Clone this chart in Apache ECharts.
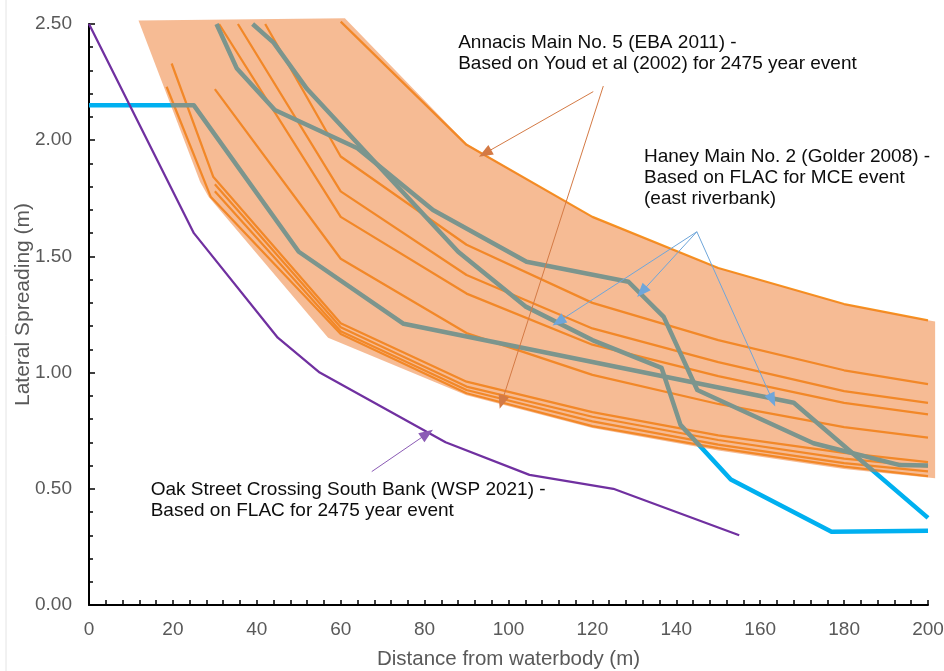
<!DOCTYPE html>
<html>
<head>
<meta charset="utf-8">
<script src="https://cdn.jsdelivr.net/npm/echarts@6/dist/echarts.min.js"></script>
<style>
  html, body { margin: 0; padding: 0; background: #ffffff; }
  #chart { width: 944px; height: 671px; }
</style>
</head>
<body>
<div id="chart"></div>
<script>
// ---- Lateral spreading (m) versus distance from waterbody (m) ----

// Axis ticks
const xTicks = [0, 20, 40, 60, 80, 100, 120, 140, 160, 180, 200];
const yTicks = [0, 0.5, 1.0, 1.5, 2.0, 2.5];

// Oak Street Crossing South Bank (WSP 2021) - FLAC, 2475 year event
const oakStreet = [[0, 2.5], [25, 1.6], [45, 1.15], [55, 1.0], [85, 0.70], [105, 0.56], [125, 0.50], [155, 0.30]];

// Haney Main No. 2 (Golder 2008) - FLAC, MCE event (east riverbank)
const haneyA = [[0, 2.15], [25, 2.15], [50, 1.52], [75, 1.21], [168, 0.87], [200, 0.375]];
const haneyB = [[39, 2.5], [44, 2.42], [52, 2.22], [88, 1.52], [104, 1.285], [120, 1.14], [136.5, 1.02], [141, 0.775], [153, 0.54], [177, 0.315], [200, 0.32]];
const haneyC = [[30.4, 2.5], [35.2, 2.31], [44.3, 2.13], [64, 1.965], [82, 1.70], [104.3, 1.477], [128.6, 1.391], [137, 1.24], [145, 0.925], [172.7, 0.696], [193.3, 0.602], [200, 0.60]];

// Annacis Main No. 5 (EBA 2011) - Youd et al (2002), 2475 year event
const youdTop = [[60, 2.51], [90, 1.98], [120, 1.67], [150, 1.45], [180, 1.295], [200, 1.225]];
const youdM1 = [[42, 2.5], [60, 1.93], [90, 1.55], [120, 1.30], [150, 1.14], [180, 1.01], [200, 0.95]];
const youdM2 = [[35.5, 2.5], [60, 1.78], [90, 1.42], [120, 1.19], [150, 1.045], [180, 0.92], [200, 0.87]];
const youdM3 = [[31, 2.5], [60, 1.67], [90, 1.34], [120, 1.12], [150, 0.985], [180, 0.87], [200, 0.82]];
const youdM4 = [[30, 2.22], [60, 1.49], [90, 1.17], [120, 0.99], [150, 0.865], [180, 0.765], [200, 0.72]];
const youdB1 = [[18.5, 2.23], [29, 1.757], [60, 1.166], [90, 0.911], [120, 0.77], [150, 0.675], [180, 0.595], [200, 0.555]];
const youdB2 = [[30, 1.78], [60, 1.178], [90, 0.925], [120, 0.79], [150, 0.69], [180, 0.61], [200, 0.575]];
const youdB3 = [[30, 1.81], [60, 1.195], [90, 0.94], [120, 0.81], [150, 0.71], [180, 0.63], [200, 0.595]];
const youdB4 = [[19.7, 2.33], [29.6, 1.843], [60, 1.212], [90, 0.961], [120, 0.83], [150, 0.73], [180, 0.655], [200, 0.615]];

// Envelope of the Youd et al results (shaded range)
const bandX = [11.8, 61, 90, 120, 150, 180, 200, 201.7, 201.7, 180, 150, 120, 90, 57, 28.5, 26.5];
const bandY = [2.515, 2.525, 1.985, 1.67, 1.45, 1.295, 1.225, 1.22, 0.545, 0.585, 0.665, 0.762, 0.903, 1.15, 1.757, 1.82];

// Callout text and arrow anchors (data coordinates)
const annacisText = 'Annacis Main No. 5 (EBA 2011) -\nBased on Youd et al (2002) for 2475 year event';
const haneyText = 'Haney Main No. 2 (Golder 2008) -\nBased on FLAC for MCE event\n(east riverbank)';
const oakText = 'Oak Street Crossing South Bank (WSP 2021) -\nBased on FLAC for 2475 year event';
const annacisAnchor = [88, 2.466];
const haneyAnchor = [132.3, 1.976];
const oakAnchor = [14.7, 0.543];
const annacisArrows = [[[120.2, 2.209], [94.4, 1.944]], [[122.6, 2.233], [98.4, 0.873]]];
const haneyArrows = [[[144.9, 1.606], [111.9, 1.219]], [[144.9, 1.606], [131.8, 1.348]], [[144.9, 1.606], [162.9, 0.882]]];
const oakArrows = [[[67.4, 0.574], [80.6, 0.737]]];

const FONT = '"Liberation Sans", Arial, "DejaVu Sans", sans-serif';
const ORANGE_LINE = '#F7941F';
const BAND_FILL = 'rgba(237,125,49,0.52)';
const CYAN = '#00B0F0';
const PURPLE = '#7030A0';

const chart = echarts.init(document.getElementById('chart'), null, { renderer: 'canvas' });

function lineSeries(name, data, color, width, z) {
  return {
    name: name,
    type: 'line',
    data: data,
    z: z,
    clip: false,
    symbol: 'none',
    silent: true,
    lineStyle: { color: color, width: width, join: 'round' },
    emphasis: { disabled: true }
  };
}

function arrowSeries(name, arrows, color, headColor) {
  return {
    name: name,
    type: 'line',
    data: [],
    z: 6,
    silent: true,
    markLine: {
      silent: true,
      animation: false,
      symbol: ['none', 'triangle'],
      symbolSize: [11, 14],
      label: { show: false },
      emphasis: { disabled: true },
      itemStyle: { color: headColor },
      lineStyle: { color: color, width: 1, type: 'solid' },
      data: arrows.map(a => [{ coord: a[0] }, { coord: a[1] }])
    }
  };
}

const youdLines = [youdTop, youdM1, youdM2, youdM3, youdM4, youdB1, youdB2, youdB3, youdB4];

const option = {
  backgroundColor: '#ffffff',
  animation: false,
  grid: { left: 89, right: 16, top: 24, bottom: 66, containLabel: false, outerBoundsMode: 'none' },
  xAxis: {
    type: 'value',
    min: xTicks[0],
    max: xTicks[xTicks.length - 1],
    interval: 20,
    name: 'Distance from waterbody (m)',
    nameLocation: 'middle',
    nameGap: 44,
    nameTextStyle: { color: '#595959', fontSize: 20.5, fontFamily: FONT },
    axisLine: { show: true, lineStyle: { color: '#000000', width: 2 } },
    axisTick: { show: true, inside: true, length: 5, lineStyle: { color: '#000000', width: 1.5 } },
    minorTick: { show: true, splitNumber: 5, length: 5, lineStyle: { color: '#000000', width: 1.5 } },
    splitLine: { show: false },
    axisLabel: { color: '#595959', fontSize: 19, fontFamily: FONT, margin: 15 }
  },
  yAxis: {
    type: 'value',
    min: yTicks[0],
    max: yTicks[yTicks.length - 1],
    interval: 0.5,
    name: 'Lateral Spreading (m)',
    nameLocation: 'middle',
    nameGap: 55,
    nameMoveOverlap: false,
    nameTextStyle: { color: '#595959', fontSize: 21, fontFamily: FONT, padding: [0, 0, 0, 20] },
    axisLine: { show: true, lineStyle: { color: '#000000', width: 2 } },
    axisTick: { show: true, inside: true, length: 6, lineStyle: { color: '#000000', width: 1.5 } },
    minorTick: { show: true, splitNumber: 5, length: 4, lineStyle: { color: '#000000', width: 1.5 } },
    splitLine: { show: false },
    axisLabel: {
      color: '#595959', fontSize: 19, fontFamily: FONT, margin: 17,
      formatter: v => v.toFixed(2)
    }
  },
  series: [
    ...youdLines.map((d, i) => lineSeries('Youd ' + i, d, ORANGE_LINE, 2.25, 1)),
    lineSeries('Haney A', haneyA, CYAN, 4.5, 2),
    lineSeries('Haney B', haneyB, CYAN, 4.5, 2),
    lineSeries('Haney C', haneyC, CYAN, 4.5, 2),
    {
      name: 'Youd envelope',
      type: 'custom',
      z: 3,
      silent: true,
      clip: false,
      data: [[bandX[0], bandY[0]]],
      renderItem: (params, api) => {
        const pts = bandX.map((x, i) => api.coord([x, bandY[i]]));
        return {
          type: 'polygon',
          shape: { points: pts },
          style: { fill: BAND_FILL, stroke: null }
        };
      }
    },
    lineSeries('Oak Street', oakStreet, PURPLE, 2.25, 4),
    arrowSeries('Annacis callout', annacisArrows, '#D47A45', '#C55A11'),
    arrowSeries('Haney callout', haneyArrows, '#6FA6DA', '#5B9BD5'),
    arrowSeries('Oak callout', oakArrows, '#8B5BB5', PURPLE)
  ]
};

chart.setOption(option);

// Callout texts placed from data coordinates
function textAt(anchor, text) {
  const p = chart.convertToPixel({ xAxisIndex: 0, yAxisIndex: 0 }, anchor);
  return {
    type: 'text',
    x: p[0],
    y: p[1],
    z: 10,
    silent: true,
    style: {
      text: text,
      fill: '#0d0d0d',
      font: '19px ' + FONT,
      lineHeight: 21,
      align: 'left',
      verticalAlign: 'top'
    }
  };
}

chart.setOption({
  graphic: [
    {
      type: 'rect',
      silent: true,
      z: 0,
      shape: { x: 6, y: -10, width: 960, height: 700 },
      style: { fill: null, stroke: '#E4E4E4', lineWidth: 1 }
    },
    textAt(annacisAnchor, annacisText),
    textAt(haneyAnchor, haneyText),
    textAt(oakAnchor, oakText)
  ]
});
</script>
</body>
</html>
